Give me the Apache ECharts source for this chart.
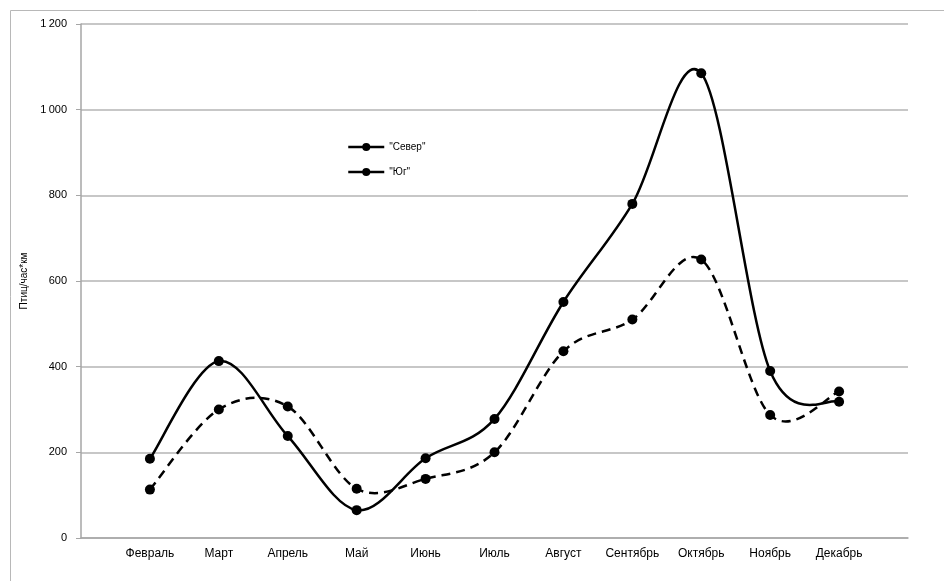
<!DOCTYPE html>
<html>
<head>
<meta charset="utf-8">
<script src="https://cdn.jsdelivr.net/npm/echarts@6/dist/echarts.min.js"></script>
<style>
html,body{margin:0;padding:0;background:#fff;}
#chart{width:944px;height:581px;}
</style>
</head>
<body>
<div id="chart"></div>
<script>
var categories = ['', 'Февраль', 'Март', 'Апрель', 'Май', 'Июнь', 'Июль', 'Август', 'Сентябрь', 'Октябрь', 'Ноябрь', 'Декабрь', ''];
var sever = [null, 113, 300, 307, 115, 138, 200, 436, 510, 650, 287, 342, null];
var yug = [null, 185, 413, 238, 65, 186, 278, 551, 780, 1085, 390, 318, null];
var seriesNames = ['"Север"', '"Юг"'];
var yAxisTitle = 'Птиц/час*км';

var fontFam = 'Liberation Sans, Arial, sans-serif';

// Excel-like smoothed curve (Catmull-Rom through the data points), positioned via the library's scales
function curveSeries(values, dash) {
  var pts = [];
  values.forEach(function (v, i) { if (v != null) pts.push([i, v]); });
  return {
    type: 'custom',
    coordinateSystem: 'cartesian2d',
    silent: true,
    z: 2,
    data: pts,
    renderItem: function (params, api) {
      if (params.dataIndex !== 0) return null;
      var p = pts.map(function (d) { return api.coord(d); });
      var n = p.length;
      var path = 'M' + p[0][0] + ' ' + p[0][1];
      for (var i = 0; i < n - 1; i++) {
        var p0 = p[i > 0 ? i - 1 : i], p1 = p[i], p2 = p[i + 1], p3 = p[i + 2 < n ? i + 2 : i + 1];
        var c1x = p1[0] + (p2[0] - p0[0]) / 6, c1y = p1[1] + (p2[1] - p0[1]) / 6;
        var c2x = p2[0] - (p3[0] - p1[0]) / 6, c2y = p2[1] - (p3[1] - p1[1]) / 6;
        path += ' C' + c1x + ' ' + c1y + ' ' + c2x + ' ' + c2y + ' ' + p2[0] + ' ' + p2[1];
      }
      return {
        type: 'path',
        shape: {pathData: path},
        style: {fill: null, stroke: '#000', lineWidth: 2.5, lineDash: dash, lineCap: 'butt', lineJoin: 'round'}
      };
    }
  };
}

var chart = echarts.init(document.getElementById('chart'));
chart.setOption({
  animation: false,
  backgroundColor: '#fff',
  graphic: [{
    type: 'rect',
    shape: {x: 10.5, y: 10.5, width: 960, height: 600},
    style: {fill: 'none', stroke: '#b8b8b8', lineWidth: 1},
    silent: true
  }],
  grid: {left: 81, right: 36, top: 24, bottom: 43, containLabel: false},
  legend: {
    orient: 'vertical',
    left: 342,
    top: 137,
    itemWidth: 36,
    itemHeight: 10,
    itemGap: 15,
    data: seriesNames,
    lineStyle: {type: 'solid', width: 2.5, color: '#000', opacity: 1},
    textStyle: {fontFamily: fontFam, fontSize: 10, color: '#000'}
  },
  xAxis: {
    type: 'category',
    data: categories,
    boundaryGap: false,
    axisLine: {lineStyle: {color: '#a6a6a6', width: 1.5}},
    axisTick: {show: false},
    axisLabel: {interval: 0, color: '#000', fontFamily: fontFam, fontSize: 12, margin: 10},
    splitLine: {show: false}
  },
  yAxis: {
    type: 'value',
    min: 0,
    max: 1200,
    interval: 200,
    name: yAxisTitle,
    nameLocation: 'middle',
    nameGap: 47,
    nameTextStyle: {fontFamily: fontFam, fontSize: 10, color: '#000'},
    axisLine: {show: true, lineStyle: {color: '#a6a6a6', width: 1.5}},
    axisTick: {show: true, length: 5, lineStyle: {color: '#a6a6a6'}},
    axisLabel: {
      color: '#000', fontFamily: fontFam, fontSize: 11, margin: 14,
      formatter: function (v) { return v >= 1000 ? String(v).replace(/(\d)(\d{3})$/, '$1\u2009$2') : String(v); }
    },
    splitLine: {lineStyle: {color: '#b4b4b4', width: 1.5}}
  },
  series: [
    {
      name: seriesNames[0],
      type: 'line',
      data: sever,
      symbol: 'circle',
      symbolSize: 10,
      z: 3,
      itemStyle: {color: '#000'},
      lineStyle: {color: '#000', width: 2.5, opacity: 0}
    },
    {
      name: seriesNames[1],
      type: 'line',
      data: yug,
      symbol: 'circle',
      symbolSize: 10,
      z: 3,
      itemStyle: {color: '#000'},
      lineStyle: {color: '#000', width: 2.5, opacity: 0}
    },
    curveSeries(sever, [9, 6]),
    curveSeries(yug, null)
  ]
});
</script>
</body>
</html>
